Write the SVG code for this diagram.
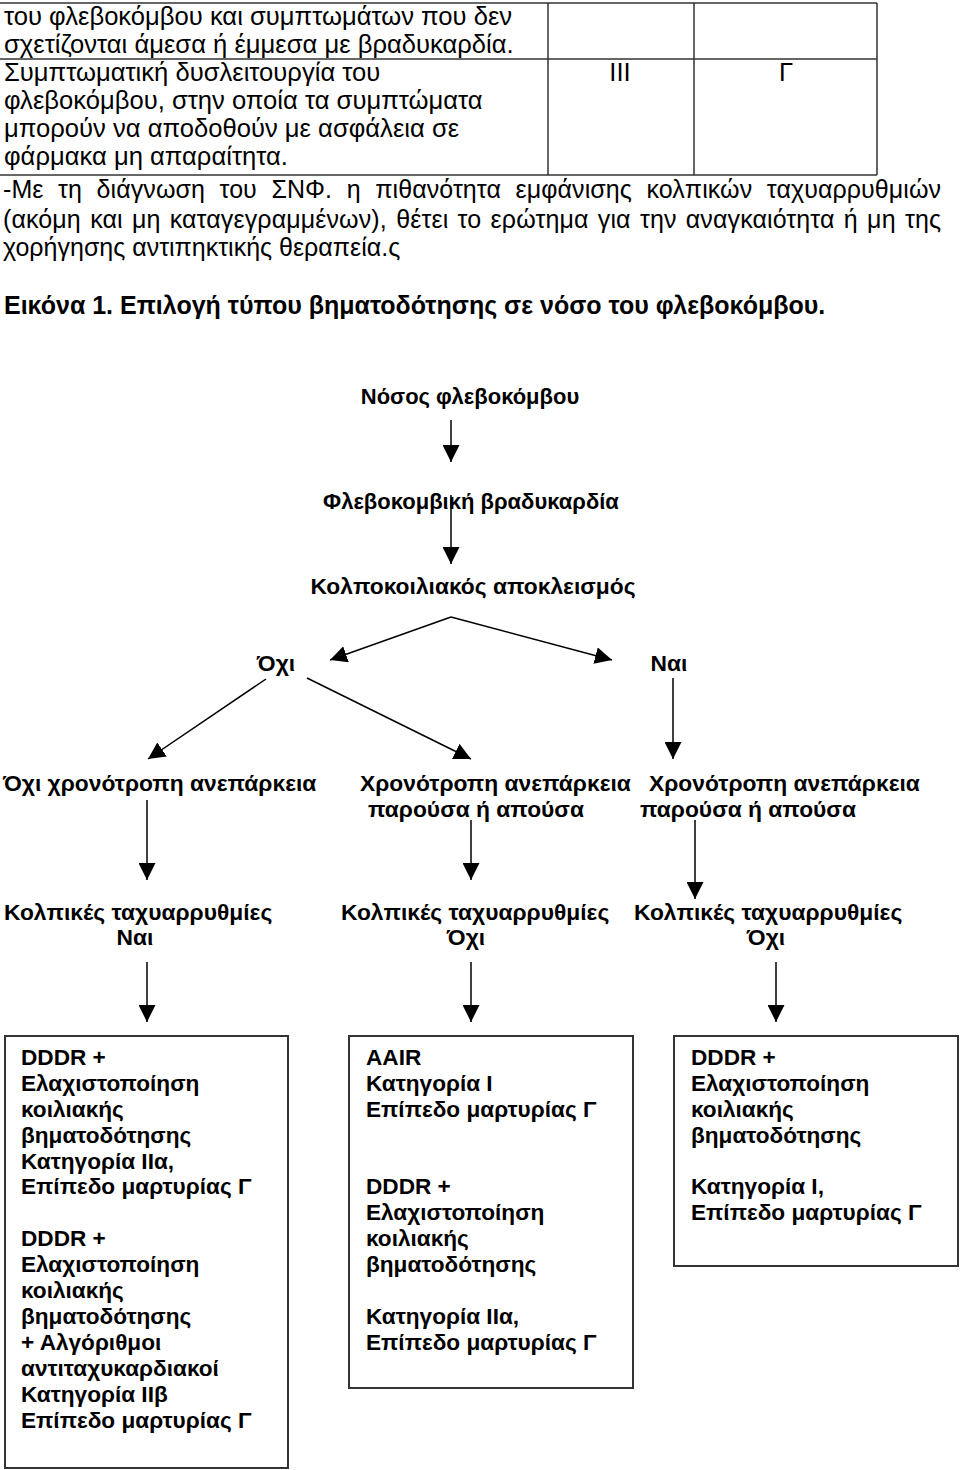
<svg xmlns="http://www.w3.org/2000/svg" width="960" height="1470" viewBox="0 0 960 1470">
<defs>
<marker id="ah" viewBox="0 0 17 17" refX="17" refY="8.5" markerWidth="17" markerHeight="17" markerUnits="userSpaceOnUse" orient="auto">
<path d="M0,0 L17,8.5 L0,17 z" fill="#000"/>
</marker>
<style>
.t{font-family:"Liberation Sans",Arial,sans-serif;font-size:25px;fill:#000}
.tb{font-size:25.6px}
.b{font-family:"Liberation Sans",Arial,sans-serif;font-size:25px;font-weight:bold;fill:#000}
.f{font-family:"Liberation Sans",Arial,sans-serif;font-size:22.8px;font-weight:bold;fill:#000}
.f0{font-size:22px}
.x{font-family:"Liberation Sans",Arial,sans-serif;font-size:22.6px;font-weight:bold;fill:#000}
.m{text-anchor:middle}
.grid{stroke:#333;stroke-width:1.5;fill:none}
.box{stroke:#333;stroke-width:2;fill:#fff}
.c line{stroke:#000;stroke-width:1.5;marker-end:url(#ah)}
</style>
</defs>
<rect width="960" height="1470" fill="#fff"/>

<g id="table">
<line class="grid" x1="0" y1="3" x2="877" y2="3"/>
<line class="grid" x1="0" y1="59" x2="877" y2="59"/>
<line class="grid" x1="0" y1="175" x2="877" y2="175"/>
<line class="grid" x1="548" y1="3" x2="548" y2="175"/>
<line class="grid" x1="694" y1="3" x2="694" y2="175"/>
<line class="grid" x1="877" y1="3" x2="877" y2="175"/>
<text class="t tb" x="4" y="25">του φλεβοκόμβου και συμπτωμάτων που δεν</text>
<text class="t tb" x="4" y="53">σχετίζονται άμεσα ή έμμεσα με βραδυκαρδία.</text>
<text class="t tb" x="4" y="81">Συμπτωματική δυσλειτουργία του</text>
<text class="t tb" x="4" y="109">φλεβοκόμβου, στην οποία τα συμπτώματα</text>
<text class="t tb" x="4" y="137">μπορούν να αποδοθούν με ασφάλεια σε</text>
<text class="t tb" x="4" y="165">φάρμακα μη απαραίτητα.</text>
<text class="t tb m" x="620" y="81">III</text>
<text class="t tb m" x="786" y="81">Γ</text>
</g>

<g id="paragraph">
<text class="t" x="3" y="198" word-spacing="7.5" textLength="938" lengthAdjust="spacing">-Με τη διάγνωση του ΣΝΦ. η πιθανότητα εμφάνισης κολπικών ταχυαρρυθμιών</text>
<text class="t" x="3" y="228" word-spacing="2.2" textLength="938" lengthAdjust="spacing">(ακόμη και μη καταγεγραμμένων), θέτει το ερώτημα για την αναγκαιότητα ή μη της</text>
<text class="t" x="3" y="256">χορήγησης αντιπηκτικής θεραπεία.ς</text>
</g>

<g id="caption">
<text class="b" x="4" y="314">Εικόνα 1. Επιλογή τύπου βηματοδότησης σε νόσο του φλεβοκόμβου.</text>
</g>

<g id="n1"><text class="f f0 m" x="470" y="404">Νόσος φλεβοκόμβου</text></g>
<g id="n2"><text class="f f0 m" x="471" y="509">Φλεβοκομβική βραδυκαρδία</text></g>
<g id="n3"><text class="f m" x="473" y="594">Κολποκοιλιακός αποκλεισμός</text></g>
<g id="n4"><text class="f m" x="276" y="671">Όχι</text></g>
<g id="n5"><text class="f m" x="669" y="671">Ναι</text></g>
<g id="n6"><text class="f" x="3" y="791">Όχι χρονότροπη ανεπάρκεια</text></g>
<g id="n7"><text class="f" x="360" y="791">Χρονότροπη ανεπάρκεια</text><text class="f" x="368" y="817">παρούσα ή απούσα</text></g>
<g id="n8"><text class="f" x="649" y="791">Χρονότροπη ανεπάρκεια</text><text class="f" x="640" y="817">παρούσα ή απούσα</text></g>
<g id="n9"><text class="f" x="4" y="920">Κολπικές ταχυαρρυθμίες</text><text class="f m" x="135" y="945">Ναι</text></g>
<g id="n10"><text class="f" x="341" y="920">Κολπικές ταχυαρρυθμίες</text><text class="f m" x="466" y="945">Όχι</text></g>
<g id="n11"><text class="f" x="634" y="920">Κολπικές ταχυαρρυθμίες</text><text class="f m" x="766" y="945">Όχι</text></g>

<g id="box1">
<rect class="box" x="5" y="1036" width="283" height="432"/>
<text class="x" x="21" y="1065">DDDR +</text>
<text class="x" x="21" y="1091">Ελαχιστοποίηση</text>
<text class="x" x="21" y="1117">κοιλιακής</text>
<text class="x" x="21" y="1143">βηματοδότησης</text>
<text class="x" x="21" y="1169">Κατηγορία IIα,</text>
<text class="x" x="21" y="1194">Επίπεδο μαρτυρίας Γ</text>
<text class="x" x="21" y="1246">DDDR +</text>
<text class="x" x="21" y="1272">Ελαχιστοποίηση</text>
<text class="x" x="21" y="1298">κοιλιακής</text>
<text class="x" x="21" y="1324">βηματοδότησης</text>
<text class="x" x="21" y="1350">+ Αλγόριθμοι</text>
<text class="x" x="21" y="1376">αντιταχυκαρδιακοί</text>
<text class="x" x="21" y="1402">Κατηγορία IIβ</text>
<text class="x" x="21" y="1428">Επίπεδο μαρτυρίας Γ</text>
</g>

<g id="box2">
<rect class="box" x="349" y="1036" width="284" height="352"/>
<text class="x" x="366" y="1065">AAIR</text>
<text class="x" x="366" y="1091">Κατηγορία I</text>
<text class="x" x="366" y="1117">Επίπεδο μαρτυρίας Γ</text>
<text class="x" x="366" y="1194">DDDR +</text>
<text class="x" x="366" y="1220">Ελαχιστοποίηση</text>
<text class="x" x="366" y="1246">κοιλιακής</text>
<text class="x" x="366" y="1272">βηματοδότησης</text>
<text class="x" x="366" y="1324">Κατηγορία IIα,</text>
<text class="x" x="366" y="1350">Επίπεδο μαρτυρίας Γ</text>
</g>

<g id="box3">
<rect class="box" x="674" y="1036" width="284" height="230"/>
<text class="x" x="691" y="1065">DDDR +</text>
<text class="x" x="691" y="1091">Ελαχιστοποίηση</text>
<text class="x" x="691" y="1117">κοιλιακής</text>
<text class="x" x="691" y="1143">βηματοδότησης</text>
<text class="x" x="691" y="1194">Κατηγορία I,</text>
<text class="x" x="691" y="1220">Επίπεδο μαρτυρίας Γ</text>
</g>

<g id="connectors" class="c">
<line x1="451" y1="420" x2="451" y2="462"/>
<line x1="451" y1="495" x2="451" y2="564"/>
<line x1="451" y1="617" x2="330" y2="660"/>
<line x1="451" y1="617" x2="612" y2="660"/>
<line x1="266" y1="679" x2="148" y2="759"/>
<line x1="307" y1="678" x2="471" y2="759"/>
<line x1="673" y1="678" x2="673" y2="759"/>
<line x1="147" y1="800" x2="147" y2="880"/>
<line x1="471" y1="820" x2="471" y2="880"/>
<line x1="695" y1="820" x2="695" y2="899"/>
<line x1="147" y1="962" x2="147" y2="1022"/>
<line x1="471" y1="962" x2="471" y2="1022"/>
<line x1="776" y1="962" x2="776" y2="1022"/>
</g>
</svg>
